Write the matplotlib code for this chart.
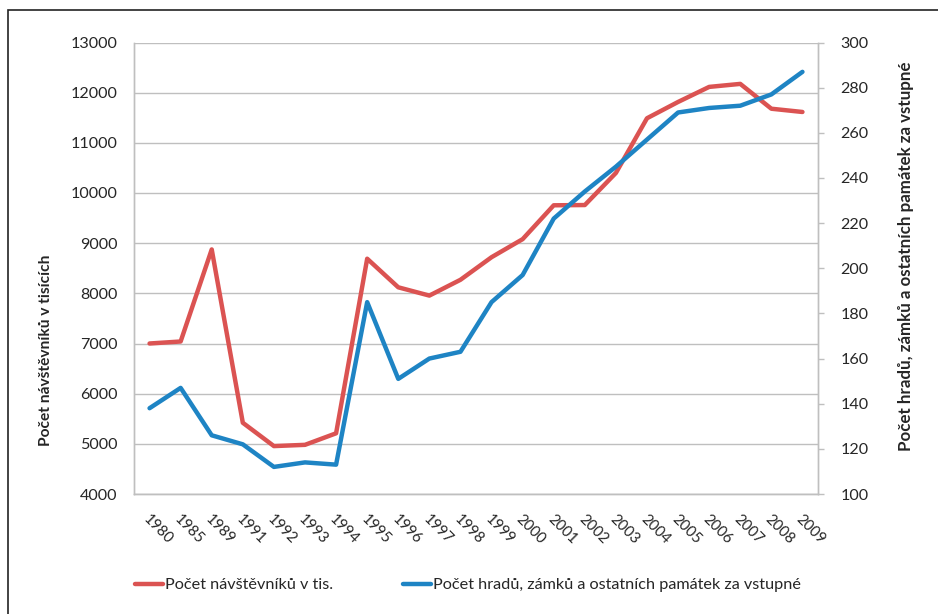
import matplotlib
matplotlib.use("Agg")
import matplotlib.pyplot as plt
import matplotlib.transforms as mtransforms
from matplotlib.patches import Rectangle

plt.rcParams['font.family'] = ['Lato', 'DejaVu Sans']

# data
years = ['1980', '1985', '1989', '1991', '1992', '1993', '1994', '1995', '1996', '1997', '1998',
         '1999', '2000', '2001', '2002', '2003', '2004', '2005', '2006', '2007', '2008', '2009']
visitors = [7000, 7040, 8875, 5420, 4955, 4980, 5210, 8690, 8120, 7955, 8270,
            8720, 9080, 9755, 9760, 10400, 11490, 11815, 12115, 12175, 11680, 11615]
monuments = [138, 147, 126, 122, 112, 114, 113, 185, 151, 160, 163,
             185, 197, 222, 234, 245, 257, 269, 271, 272, 277, 287]

red = '#DB5352'
blue = '#1E84C4'
grid_col = '#BFBFBF'
txt = '#262626'

fig = plt.figure(figsize=(9.38, 6.14), dpi=100)
ax = fig.add_axes([134 / 938, 120 / 614, 684 / 938, 451.5 / 614])
ax2 = ax.twinx()

x = list(range(len(years)))
l1, = ax.plot(x, visitors, color=red, lw=3.2, solid_capstyle='round', solid_joinstyle='round',
              label='Počet návštěvníků v tis.', zorder=3)
l2, = ax2.plot(x, monuments, color=blue, lw=3.2, solid_capstyle='round', solid_joinstyle='round',
               label='Počet hradů, zámků a ostatních památek za vstupné', zorder=3)

ax.set_xlim(-0.5, len(years) - 0.5)
ax.set_ylim(4000, 13000)
ax2.set_ylim(100, 300)
ax.set_yticks(range(4000, 13001, 1000))
ax2.set_yticks(range(100, 301, 20))

ax.yaxis.grid(True, color=grid_col, lw=1)
ax.set_axisbelow(True)
ax2.set_zorder(ax.get_zorder() + 1)
ax2.patch.set_visible(False)

ax.set_xticks(x)
ax.set_xticklabels(years, rotation=-45, ha='left', va='top', fontsize=10.8, color=txt)
ax.tick_params(axis='x', length=0, pad=13)
ax.tick_params(axis='y', length=0, pad=12, labelsize=11.6, labelcolor=txt)
ax2.tick_params(axis='y', length=4, width=1, color=grid_col, pad=12, labelsize=11.6, labelcolor=txt)

# nudge the slanted year labels left, like the excel original
shift = mtransforms.ScaledTranslation(-9 / 100, 0, fig.dpi_scale_trans)
for lab in ax.get_xticklabels():
    lab.set_transform(lab.get_transform() + shift)

for a in (ax, ax2):
    a.spines['top'].set_visible(False)
    for s in ('left', 'right', 'bottom'):
        a.spines[s].set_color(grid_col)
        a.spines[s].set_linewidth(1)

fig.text(46 / 938, 1 - 350 / 614, 'Počet návštěvníků v tisících', rotation=90,
         ha='center', va='center', fontsize=11.2, fontweight='bold', color=txt)
fig.text(906 / 938, 1 - 256 / 614, 'Počet hradů, zámků a ostatních památek za vstupné', rotation=90,
         ha='center', va='center', fontsize=12.2, fontweight='bold', color=txt)

fig.legend(handles=[l1, l2], loc='center left', bbox_to_anchor=(135 / 938, 1 - 585 / 614),
           ncol=2, frameon=False, fontsize=11.7, handlelength=1.72, handletextpad=0.12,
           columnspacing=4.3, borderpad=0, borderaxespad=0, labelcolor=txt)

# outer frame
fig.patches.append(Rectangle((8 / 938, -0.05), 1.2, 1 - 10 / 614 + 0.05, transform=fig.transFigure,
                             fill=False, edgecolor='#222222', lw=1.2))

fig.savefig('out.png', dpi=100)
